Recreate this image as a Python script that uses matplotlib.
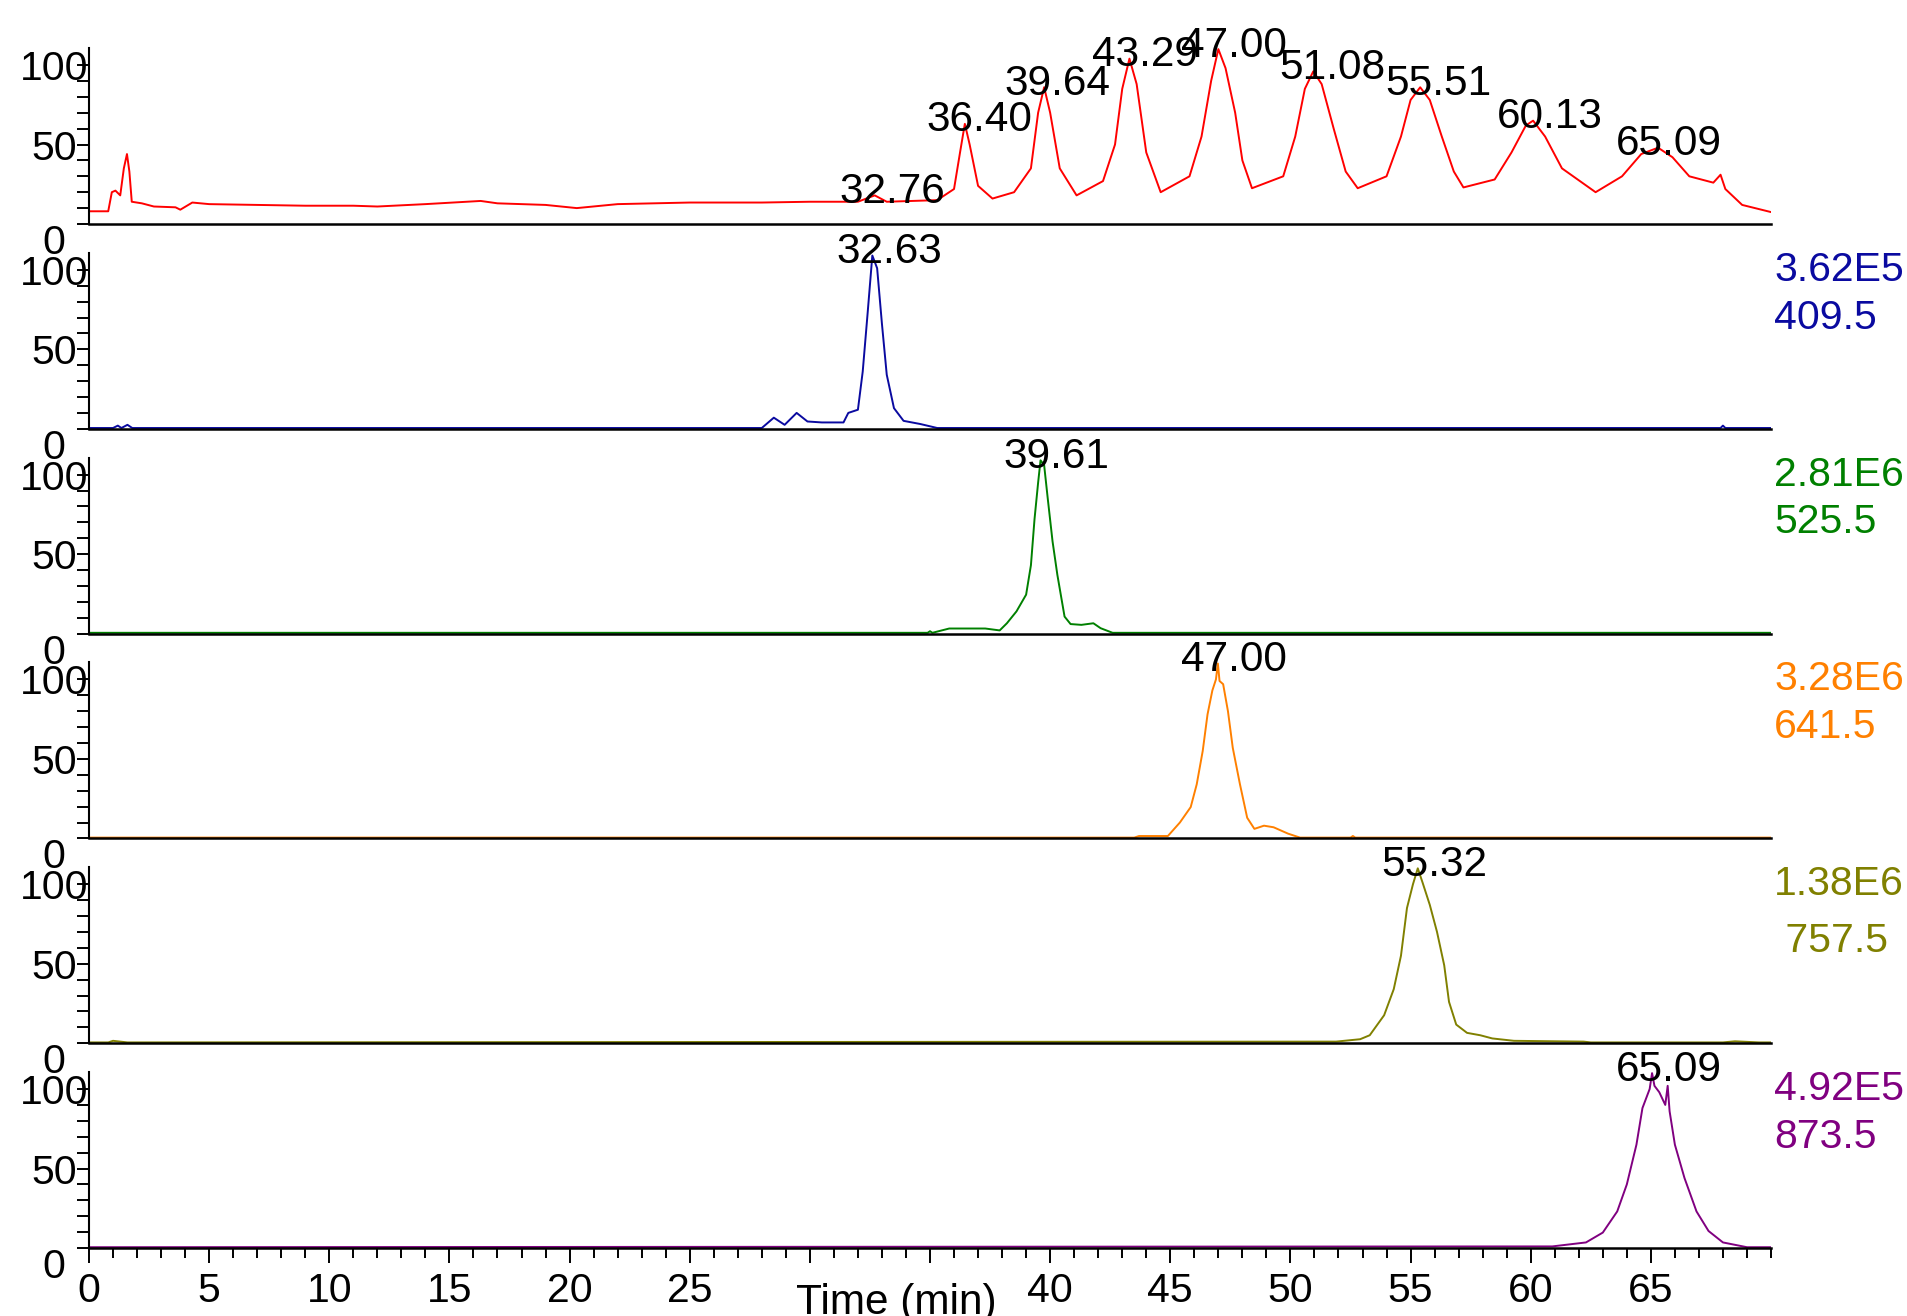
import numpy as np
import matplotlib.pyplot as plt
from matplotlib.ticker import MultipleLocator, FixedLocator

plt.rcParams['font.family'] = ['Liberation Sans', 'DejaVu Sans']

# total ion chromatogram (relative abundance, %)
tic_time = [0, 0.8, 0.95, 1.1, 1.3, 1.45, 1.58, 1.68, 1.78, 2.2, 2.7, 3.6, 3.8, 4.3, 5, 7, 9,
            11, 12, 14, 16.3, 17, 19, 20.3, 22, 25, 28, 30, 32, 32.7, 33.2, 35.3,
            36.0, 36.25, 36.45, 36.65, 37.0, 37.6, 38.5, 39.2, 39.5, 39.75, 40.0, 40.4,
            41.1, 42.2, 42.7, 43.0, 43.3, 43.6, 44.0, 44.6, 45.8, 46.3, 46.7, 47.0, 47.3,
            47.7, 48.0, 48.4, 49.7, 50.2, 50.6, 50.95, 51.3, 51.8, 52.3, 52.8, 54.0, 54.6,
            55.0, 55.4, 55.8, 56.3, 56.8, 57.2, 58.5, 59.2, 59.8, 60.1, 60.6, 61.3, 62.7,
            63.8, 64.6, 65.3, 65.9, 66.6, 67.6, 67.9, 68.1, 68.8, 70]
tic_int = [8, 8, 20, 21, 18, 35, 44, 33, 14, 13, 11, 10.5, 9, 13.5, 12.5, 12, 11.5,
           11.5, 11, 12.5, 14.5, 13, 12, 10, 12.5, 13.5, 13.5, 14, 14, 18, 14, 15,
           22, 45, 63, 50, 24, 16, 20, 35, 70, 86, 70, 35,
           18, 27, 50, 85, 104, 88, 45, 20, 30, 55, 90, 110, 98,
           70, 40, 22.5, 30, 55, 85, 96, 88, 60, 33, 22.5, 30, 55,
           78, 86, 78, 55, 33, 23, 28, 45, 62, 65, 55, 35, 20,
           30, 44, 48, 42, 30, 26, 31, 22, 12, 7.5]
tic_peaks = ['32.76', '36.40', '39.64', '43.29', '47.00', '51.08', '55.51', '60.13', '65.09']

# extracted ion chromatograms
eic1_time = [0, 1.0, 1.2, 1.35, 1.6, 1.8, 28.0, 28.5, 28.95, 29.45, 29.9, 30.5, 31.4, 31.6,
             32.0, 32.2, 32.4, 32.6, 32.8, 33.0, 33.2, 33.5, 33.9, 34.6, 35.3, 67.9, 68.0, 68.1, 70]
eic1_int = [0.5, 0.5, 2, 0.5, 2.5, 0.5, 0.5, 7, 2.5, 10, 4.6, 4, 4, 10,
            12, 36, 72, 109, 101, 66, 34, 13, 5, 3, 0.5, 0.5, 2, 0.5, 0.5]
eic2_time = [0, 34.9, 35.0, 35.1, 35.8, 37.3, 37.9, 38.2, 38.6, 39.0, 39.2, 39.35, 39.5, 39.6,
             39.75, 39.9, 40.1, 40.3, 40.6, 40.85, 41.3, 41.8, 42.1, 42.6, 70]
eic2_int = [0.5, 0.5, 1.5, 0.5, 3.2, 3.2, 2, 6.5, 14, 24.5, 43, 72, 95, 109,
            106, 85, 58, 37, 10.7, 6, 5.5, 6.5, 3.4, 0.5, 0.5]
eic3_time = [0, 43.5, 43.7, 44.9, 45.4, 45.85, 46.1, 46.35, 46.55, 46.75, 46.9, 46.98, 47.05,
             47.2, 47.4, 47.6, 47.9, 48.2, 48.5, 48.9, 49.3, 49.9, 50.4, 52.5, 52.6, 52.7, 70]
eic3_int = [0.5, 0.5, 1.5, 1.5, 10, 19.7, 34, 55, 78, 93, 100, 110, 99,
            97, 80, 57, 34, 13, 6, 8, 7, 3, 0.5, 0.5, 1.5, 0.5, 0.5]
eic4_time = [0, 0.8, 1.0, 1.6, 51.9, 52.9, 53.3, 53.9, 54.3, 54.6, 54.85, 55.1, 55.3, 55.5,
             55.8, 56.1, 56.4, 56.6, 56.9, 57.35, 57.9, 58.4, 59.3, 62.2, 62.5, 68.0, 68.5, 69.5, 70]
eic4_int = [0.5, 0.5, 1.5, 0.5, 1, 2.5, 5, 17.6, 34, 55, 85, 100, 110, 101,
            87, 70, 49, 26, 11.7, 6.5, 5, 3, 1.5, 1, 0.5, 0.5, 1.2, 0.5, 0.5]
eic5_time = [0, 60.9, 62.3, 63.0, 63.6, 64.0, 64.4, 64.65, 64.95, 65.05, 65.15, 65.35, 65.6,
             65.7, 65.78, 66.0, 66.4, 66.9, 67.4, 68.0, 69.0, 70]
eic5_int = [0.5, 1, 3.5, 9.7, 23, 40, 65, 88, 100, 110, 102, 98, 90,
            102, 86, 65, 44, 23, 10.7, 3.5, 0.5, 0.5]

eic_peaks = ['32.63', '39.61', '47.00', '55.32', '65.09']
eic_areas = ['3.62E5', '2.81E6', '3.28E6', '1.38E6', '4.92E5']
eic_mz = ['409.5', '525.5', '641.5', ' 757.5', '873.5']
eic_colors = ['#0a0aa0', '#008000', '#ff8000', '#808000', '#800080']

traces = [(tic_time, tic_int, 'red', tic_peaks),
          (eic1_time, eic1_int, eic_colors[0], [eic_peaks[0]]),
          (eic2_time, eic2_int, eic_colors[1], [eic_peaks[1]]),
          (eic3_time, eic3_int, eic_colors[2], [eic_peaks[2]]),
          (eic4_time, eic4_int, eic_colors[3], [eic_peaks[3]]),
          (eic5_time, eic5_int, eic_colors[4], [eic_peaks[4]])]

W, H = 1908, 1316
fig = plt.figure(figsize=(W / 100, H / 100), dpi=100)
left, right = 89, 1771
base0, step, hgt = 224, 204.8, 176
ymax = 110.7

for i, (t, y, col, peaks) in enumerate(traces):
    base = base0 + i * step
    ax = fig.add_axes([left / W, 1 - base / H, (right - left) / W, hgt / H])
    ax.plot(t, y, color=col, lw=1.4)
    ax.set_xlim(0, 70)
    ax.set_ylim(0, ymax)
    ax.spines['top'].set_visible(False)
    ax.spines['right'].set_visible(False)
    ax.spines['left'].set_linewidth(1.5)
    ax.spines['bottom'].set_linewidth(1.8)

    ax.set_yticks([0, 50, 100])
    ax.set_yticklabels(['0', '50', '100'])
    ax.yaxis.set_minor_locator(FixedLocator([10, 20, 30, 40, 60, 70, 80, 90]))
    ax.tick_params(axis='y', which='both', direction='out', length=8.6, width=1.4,
                   pad=16.5, labelsize=29.5)
    for lab in ax.get_yticklabels():
        lab.set_ha('center')
    ax.get_yticklabels()[0].set_va('top')

    ta, ya = np.array(t), np.array(y)
    for p in peaks:
        pt = float(p)
        ypk = ya[np.abs(ta - pt) < 0.35].max()
        ax.annotate(p, (pt, ypk), xytext=(11.5, 2.5), textcoords='offset points',
                    ha='center', va='center', fontsize=30.5, annotation_clip=False)

    if i > 0:
        tr = ax.get_yaxis_transform()
        ax.text(1.002, 100, eic_areas[i - 1], transform=tr, color=col, fontsize=29.5,
                ha='left', va='center')
        ax.text(1.002, 64 if i == 4 else 70, eic_mz[i - 1], transform=tr, color=col,
                fontsize=29.5, ha='left', va='center')

    if i < len(traces) - 1:
        ax.tick_params(axis='x', which='both', bottom=False, labelbottom=False)
    else:
        xt = list(range(0, 70, 5))
        ax.set_xticks(xt)
        ax.set_xticklabels(['' if v in (30, 35) else str(v) for v in xt])
        ax.xaxis.set_minor_locator(MultipleLocator(1))
        ax.tick_params(axis='x', which='major', direction='out', length=10.8, width=1.4,
                       pad=6.5, labelsize=29.5)
        ax.tick_params(axis='x', which='minor', direction='out', length=7.2, width=1.4)
        ax.set_xlabel('Time (min)', fontsize=30.5)
        ax.xaxis.set_label_coords(0.48, -0.2)

fig.savefig('out.png', dpi=100)
